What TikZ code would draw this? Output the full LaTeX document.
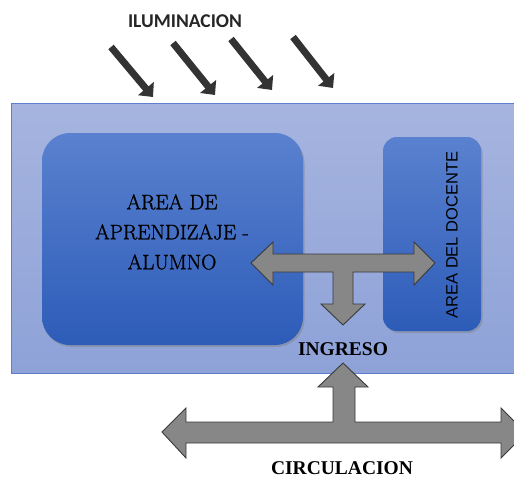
\documentclass[tikz,border=0pt]{standalone}
\usepackage{fontspec}
\setmainfont{Liberation Serif}
\newfontfamily\seriff{Liberation Serif}
\newfontfamily\lmser{Latin Modern Roman}[FakeBold=1.3]
\newfontfamily\sansf{Liberation Sans}
\newfontfamily\carl{Carlito}
\usetikzlibrary{arrows.meta,shadows}
\definecolor{outerfill}{HTML}{A6B4DF}
\definecolor{outerfillb}{HTML}{8EA2D8}
\definecolor{outerline}{HTML}{5B7FCB}
\definecolor{boxtop}{HTML}{5A81CF}
\definecolor{boxbot}{HTML}{2D5CB8}
\definecolor{blockgray}{HTML}{878787}
\definecolor{blockline}{HTML}{3A3A3A}
\definecolor{lightarr}{HTML}{333333}
\tikzset{
  areabox/.style={rounded corners=#1, top color=boxtop, bottom color=boxbot, draw=none,
    drop shadow={opacity=0.45, shadow xshift=1.5pt, shadow yshift=-2pt}},
  blockarrow/.style={fill=blockgray, draw=blockline, line width=0.9pt, line join=miter},
  lightray/.style={draw=lightarr, line width=7pt, -{Triangle[width=20pt,length=11pt]}},
  serifbig/.style={font=\lmser\fontsize{21}{30}\selectfont, align=center, text=black},
  seriflabel/.style={font=\seriff\fontsize{19.5}{22}\selectfont\bfseries, text=black},
}
\begin{document}
\begin{tikzpicture}[x=1pt,y=-1pt]
\useasboundingbox (0,0) rectangle (514,479);
\clip (0,0) rectangle (514,479);
% outer area
\path[top color=outerfill, bottom color=outerfillb, draw=outerline, line width=0.8pt]
  (11,103) rectangle (540,373);
\node[draw=none, inner sep=0] (outer) at (275,238) {};
% boxes
\path[areabox=28] (42,133) rectangle (303,345);
\path[areabox=14] (383,137) rectangle (481,331);
\node[serifbig] (alumno) at (172,232) {AREA DE\\APRENDIZAJE -\\ALUMNO};
\node[font=\sansf\fontsize{16.5}{18}\selectfont, rotate=90, text=black] (docente) at (452,235) {AREA DEL DOCENTE};
% T arrow
\draw[blockarrow] (251,263) -- (273,242) -- (273,254) -- (414,254) -- (414,242) -- (435,263)
  -- (414,285) -- (414,272) -- (353,272) -- (353,304) -- (365,304) -- (343,325) -- (321,304)
  -- (333,304) -- (333,272) -- (273,272) -- (273,285) -- cycle;
\node[seriflabel] (ingreso) at (343,349) {INGRESO};
% circulation arrow
\draw[blockarrow] (162,432) -- (186,408) -- (186,422) -- (333,422) -- (333,387) -- (318,387)
  -- (343,363) -- (368,387) -- (355,387) -- (355,422) -- (501,422) -- (501,408) -- (526,433)
  -- (501,458) -- (501,443) -- (186,443) -- (186,458) -- cycle;
\node[seriflabel] (circ) at (342,468) {CIRCULACION};
% illumination
\node[font=\carl\fontsize{19.5}{22}\selectfont\bfseries, text=black!85] (ilum) at (185,21) {ILUMINACION};
\coordinate (r1a) at (111,47); \coordinate (r1b) at (153,97);
\coordinate (r2a) at (173,43); \coordinate (r2b) at (215,95);
\coordinate (r3a) at (231,39); \coordinate (r3b) at (272,90);
\coordinate (r4a) at (293,37); \coordinate (r4b) at (333,88);
\draw[lightray] (r1a) -- (r1b);
\draw[lightray] (r2a) -- (r2b);
\draw[lightray] (r3a) -- (r3b);
\draw[lightray] (r4a) -- (r4b);
\end{tikzpicture}
\end{document}
